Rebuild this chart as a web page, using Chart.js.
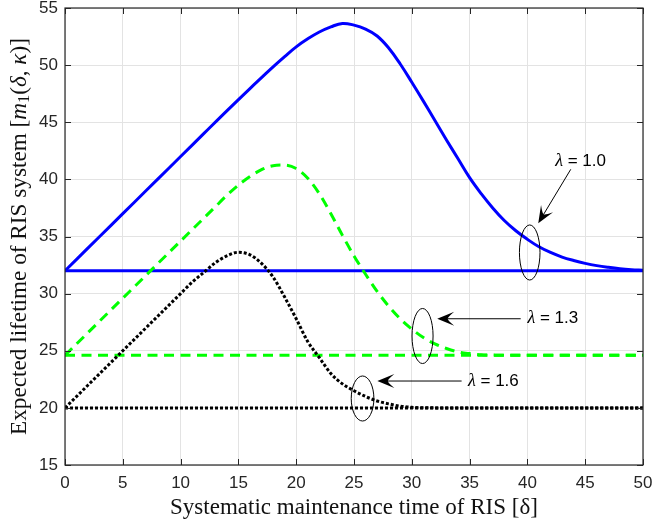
<!DOCTYPE html>
<html><head><meta charset="utf-8">
<script src="https://cdn.jsdelivr.net/npm/chart.js@4.4.1/dist/chart.umd.min.js"></script>
<style>html,body{margin:0;padding:0;background:#fff;}#wrap{width:654px;height:527px;}</style>
</head><body><div id="wrap"><canvas id="c" width="654" height="527"></canvas></div>
<script>
// ---- data ----
const xTicks = [0,5,10,15,20,25,30,35,40,45,50];
const yTicks = [15,20,25,30,35,40,45,50,55];

const deltaBlue = [0,2,4,6,8,10,12,14,16,17,18,19,20,21,22,23,24,25,26,27,28,29,30,31,32,33,34,35,36,37,38,39,40,41,42,43,44,45,46,47,48,49,50];
const lifeBlue  = [32,34,36,38,40,42,44,46,47.95,48.9,49.85,50.75,51.6,52.3,52.9,53.35,53.65,53.5,53.15,52.55,51.5,50.1,48.5,46.85,45.15,43.45,41.8,40.15,38.75,37.5,36.4,35.5,34.75,34.1,33.6,33.2,32.9,32.65,32.45,32.3,32.18,32.1,32.05];

const deltaGreen = [0,2,4,6,8,10,12,13,14,15,16,17,18,19,20,21,22,23,24,25,26,27,28,29,30,31,32,33,34,35,36,37,38,40,45,50];
const lifeGreen  = [24.6,26.6,28.6,30.6,32.6,34.6,36.6,37.6,38.6,39.5,40.25,40.85,41.2,41.25,40.95,40.1,38.75,37.0,35.1,33.3,31.7,30.2,28.9,27.8,26.9,26.15,25.6,25.2,24.9,24.75,24.65,24.62,24.6,24.6,24.6,24.6];

const deltaBlack = [0,2,4,6,8,10,11,12,13,14,15,16,17,18,19,20,21,22,23,24,25,26,27,28,29,30,32,35,40,45,50];
const lifeBlack  = [20,22,24,26,28,30,31,31.85,32.7,33.3,33.62,33.4,32.65,31.45,29.7,27.8,25.8,24.4,23.0,22.1,21.5,21.0,20.6,20.35,20.15,20.05,20,20,20,20,20];

const baseDelta = [0,50];
const baseBlue  = [32,32];
const baseGreen = [24.6,24.6];
const baseBlack = [20,20];

const lambdaLabels = ['\u03bb = 1.0','\u03bb = 1.3','\u03bb = 1.6'];
// annotation anchors in data units: ellipse centre/radii, arrow start/tip, text start
const ellCx = [40.2, 30.93, 25.74];
const ellCy = [33.6, 26.29, 20.82];
const ellRx = [0.89, 0.91, 0.98];
const ellRy = [2.41, 2.41, 1.97];
const arrFromX = [43.75, 39.42, 34.31];
const arrFromY = [40.88, 27.8, 22.35];
const arrToX = [40.94, 32.2, 27.02];
const arrToY = [36.16, 27.8, 22.35];
const txtX = [42.4, 40.0, 34.86];
const txtY = [41.6, 27.8, 22.35];

const xTitle = 'Systematic maintenance time of RIS [\u03b4]';

const pts = (xs, ys) => xs.map((x, i) => ({x, y: ys[i]}));

const AX = '#262626';

const boxPlugin = {
  id: 'box',
  afterDraw(chart) {
    const {ctx, chartArea: a, scales: {x, y}} = chart;
    ctx.save();
    ctx.strokeStyle = AX; ctx.lineWidth = 1.2;
    ctx.strokeRect(a.left, a.top, a.right - a.left, a.bottom - a.top);
    const tl = 6;
    ctx.beginPath();
    xTicks.forEach(v => { const p = Math.round(x.getPixelForValue(v)) + 0.5;
      ctx.moveTo(p, a.bottom); ctx.lineTo(p, a.bottom - tl);
      ctx.moveTo(p, a.top); ctx.lineTo(p, a.top + tl); });
    yTicks.forEach(v => { const p = Math.round(y.getPixelForValue(v)) + 0.5;
      ctx.moveTo(a.left, p); ctx.lineTo(a.left + tl, p);
      ctx.moveTo(a.right, p); ctx.lineTo(a.right - tl, p); });
    ctx.lineWidth = 1; ctx.stroke();

    // axis titles
    ctx.fillStyle = '#111';
    ctx.textBaseline = 'middle';
    const serif = '"Liberation Serif", "DejaVu Serif", serif';
    let fs = 20;
    ctx.font = fs + 'px ' + serif;
    let w = ctx.measureText(xTitle).width;
    fs = fs * 368 / w;
    ctx.font = fs.toFixed(2) + 'px ' + serif;
    ctx.textAlign = 'center';
    ctx.fillText(xTitle, (a.left + a.right) / 2, 508);

    const parts = [
      {t: 'Expected lifetime of RIS system [', s: 'n'},
      {t: 'm', s: 'i'}, {t: '1', s: 'sub'}, {t: '(', s: 'n'},
      {t: '\u03b4', s: 'i'}, {t: ', ', s: 'n'}, {t: '\u03ba', s: 'i'}, {t: ')]', s: 'n'}
    ];
    const fontFor = (s, f) => s === 'i' ? 'italic ' + f + 'px ' + serif :
      s === 'sub' ? (f * 0.7).toFixed(2) + 'px ' + serif : f + 'px ' + serif;
    const measure = f => parts.reduce((acc, p) => { ctx.font = fontFor(p.s, f); return acc + ctx.measureText(p.t).width; }, 0);
    let yf = 20; yf = yf * 397 / measure(yf);
    const total = measure(yf);
    ctx.save();
    ctx.translate(20, (a.top + a.bottom) / 2);
    ctx.rotate(-Math.PI / 2);
    ctx.textAlign = 'left';
    let cx = -total / 2;
    parts.forEach(p => { ctx.font = fontFor(p.s, yf);
      ctx.fillText(p.t, cx, p.s === 'sub' ? yf * 0.22 : 0);
      cx += ctx.measureText(p.t).width; });
    ctx.restore();
    ctx.restore();
  }
};

const annoPlugin = {
  id: 'anno',
  afterDatasetsDraw(chart) {
    const {ctx, scales: {x, y}} = chart;
    ctx.save();
    for (let i = 0; i < lambdaLabels.length; i++) {
      const cx = x.getPixelForValue(ellCx[i]), cy = y.getPixelForValue(ellCy[i]);
      const rx = Math.abs(x.getPixelForValue(ellCx[i] + ellRx[i]) - cx);
      const ry = Math.abs(y.getPixelForValue(ellCy[i] + ellRy[i]) - cy);
      ctx.strokeStyle = '#000'; ctx.lineWidth = 1;
      ctx.beginPath(); ctx.ellipse(cx, cy, rx, ry, 0, 0, Math.PI * 2); ctx.stroke();
      const x0 = x.getPixelForValue(arrFromX[i]), y0 = y.getPixelForValue(arrFromY[i]);
      const x1 = x.getPixelForValue(arrToX[i]), y1 = y.getPixelForValue(arrToY[i]);
      const ang = Math.atan2(y1 - y0, x1 - x0);
      const L = 17, W = 7;
      ctx.beginPath(); ctx.moveTo(x0, y0);
      ctx.lineTo(x1 - Math.cos(ang) * L * 0.6, y1 - Math.sin(ang) * L * 0.6); ctx.stroke();
      ctx.save(); ctx.translate(x1, y1); ctx.rotate(ang);
      ctx.fillStyle = '#000';
      ctx.beginPath(); ctx.moveTo(0, 0); ctx.lineTo(-L, -W);
      ctx.quadraticCurveTo(-L * 0.6, -W * 0.2, -L * 0.62, 0);
      ctx.quadraticCurveTo(-L * 0.6, W * 0.2, -L, W);
      ctx.closePath(); ctx.fill();
      ctx.restore();
      const tx = x.getPixelForValue(txtX[i]), ty = y.getPixelForValue(txtY[i]);
      ctx.textBaseline = 'middle'; ctx.textAlign = 'left'; ctx.fillStyle = '#000';
      const lab = lambdaLabels[i];
      ctx.font = 'italic 18px "Liberation Serif", serif';
      ctx.fillText(lab[0], tx, ty);
      const lw = ctx.measureText(lab[0]).width;
      ctx.font = '17px "Liberation Sans", Arial, sans-serif';
      ctx.fillText(lab.slice(1), tx + lw, ty);
    }
    ctx.restore();
  }
};

const tickFont = {family: '"Liberation Sans", Arial, sans-serif', size: 17};

new Chart(document.getElementById('c'), {
  type: 'line',
  data: {
    datasets: [
      {data: pts(deltaBlack, lifeBlack), borderColor: '#000', borderWidth: 3, borderDash: [3, 2], order: 1},
      {data: pts(baseDelta, baseBlack), borderColor: '#000', borderWidth: 3, borderDash: [3, 2], order: 1},
      {data: pts(deltaGreen, lifeGreen), borderColor: '#00ff00', borderWidth: 3, borderDash: [10, 6.5], order: 2},
      {data: pts(baseDelta, baseGreen), borderColor: '#00ff00', borderWidth: 3, borderDash: [10, 6.5], order: 2},
      {data: pts(deltaBlue, lifeBlue), borderColor: '#0000ff', borderWidth: 3, order: 3,
        cubicInterpolationMode: 'default', tension: 0.4},
      {data: pts(baseDelta, baseBlue), borderColor: '#0000ff', borderWidth: 3, order: 3}
    ]
  },
  options: {
    responsive: false, animation: false, devicePixelRatio: 1,
    elements: {point: {radius: 0}, line: {cubicInterpolationMode: 'monotone', fill: false}},
    layout: {padding: {left: 0, right: 11, top: 8, bottom: 0}},
    plugins: {legend: {display: false}, tooltip: {enabled: false}},
    scales: {
      x: {type: 'linear', min: 0, max: 50,
        afterBuildTicks: s => { s.ticks = xTicks.map(v => ({value: v})); },
        afterFit: s => { s.height = 62; s.paddingLeft = 0; s.paddingRight = 0; },
        ticks: {font: tickFont, color: AX, padding: 8, maxRotation: 0, autoSkip: false},
        grid: {color: '#e3e3e3', lineWidth: 1, drawTicks: false},
        border: {display: false}},
      y: {type: 'linear', min: 15, max: 55,
        afterBuildTicks: s => { s.ticks = yTicks.map(v => ({value: v})); },
        afterFit: s => { s.width = 65; s.paddingTop = 0; s.paddingBottom = 0; },
        ticks: {font: tickFont, color: AX, padding: 7, autoSkip: false},
        grid: {color: '#e3e3e3', lineWidth: 1, drawTicks: false},
        border: {display: false}}
    }
  },
  plugins: [annoPlugin, boxPlugin]
});
</script></body></html>
